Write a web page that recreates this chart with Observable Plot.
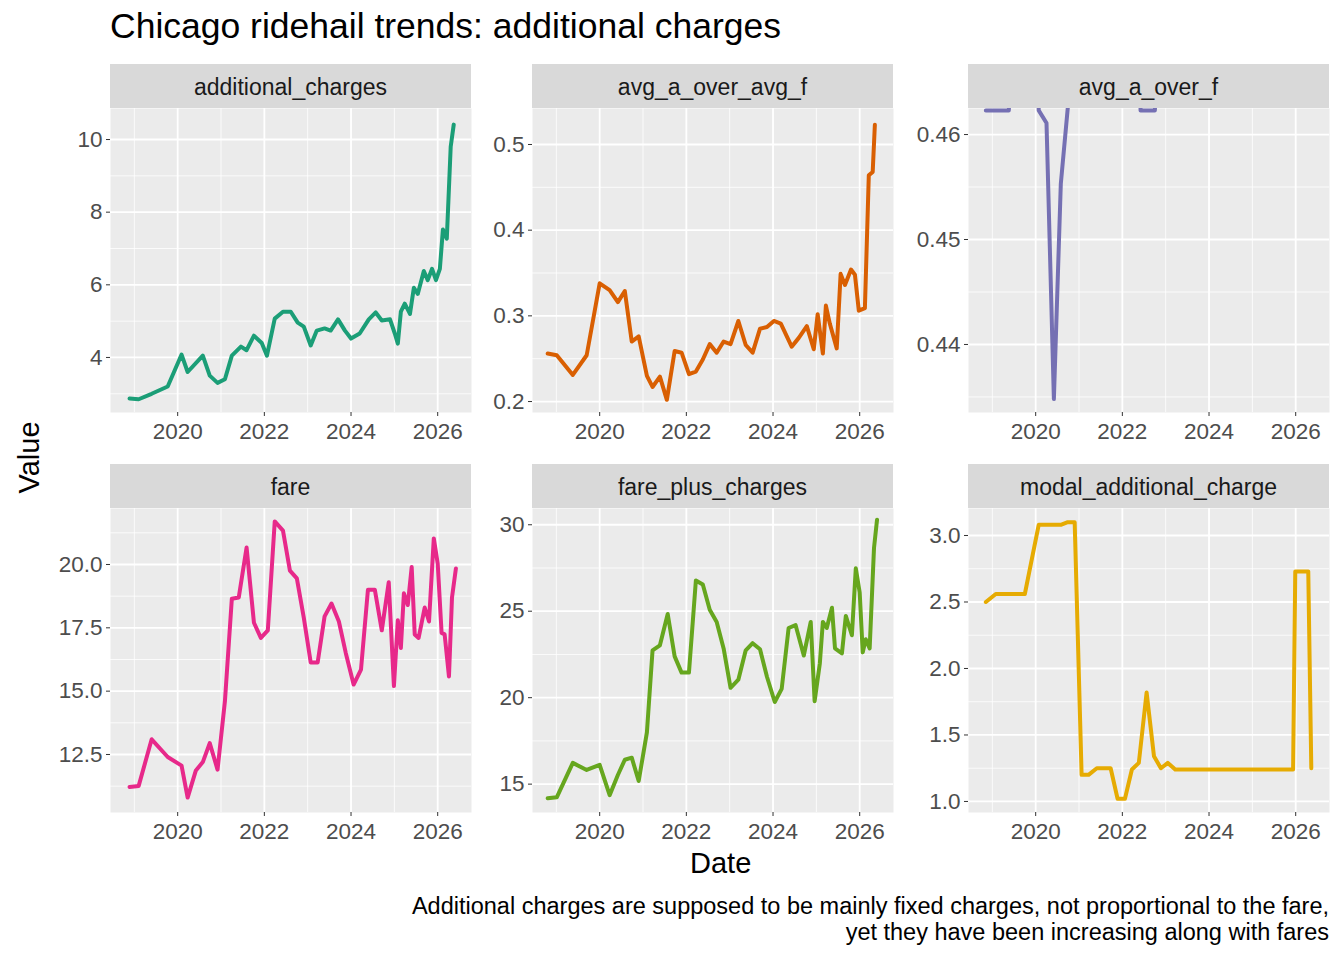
<!DOCTYPE html>
<html><head><meta charset="utf-8">
<script src="https://cdn.jsdelivr.net/npm/d3@7"></script>
<script src="https://cdn.jsdelivr.net/npm/@observablehq/plot@0.6"></script>
<style>
body{margin:0;background:#fff;font-family:"Liberation Sans",Arial,sans-serif;}
#c{position:relative;width:1344px;height:960px;}
.strip{position:absolute;background:#d9d9d9;height:44px;width:361px;text-align:center;line-height:46px;font-size:23px;color:#1a1a1a;}
.abs{position:absolute;white-space:nowrap;}
</style></head><body><div id="c"></div>
<script>
const addYears=[2018.89,2019.1,2019.4,2019.77,2020.09,2020.23,2020.58,2020.74,2020.92,2021.09,2021.25,2021.46,2021.59,2021.76,2021.94,2022.06,2022.24,2022.43,2022.61,2022.77,2022.91,2023.07,2023.21,2023.39,2023.53,2023.7,2023.86,2024.0,2024.2,2024.41,2024.57,2024.71,2024.9,2025.01,2025.08,2025.15,2025.24,2025.36,2025.45,2025.54,2025.68,2025.77,2025.87,2025.96,2026.05,2026.12,2026.21,2026.3,2026.37];
const addVals=[2.87,2.85,3.0,3.2,4.08,3.6,4.05,3.5,3.3,3.4,4.05,4.3,4.2,4.6,4.4,4.05,5.07,5.26,5.26,4.96,4.85,4.33,4.74,4.8,4.74,5.05,4.74,4.52,4.66,5.05,5.24,5.02,5.05,4.66,4.38,5.26,5.48,5.2,5.92,5.75,6.38,6.13,6.44,6.13,6.44,7.52,7.27,9.8,10.41];
const ratioYears=[2018.8,2019.01,2019.38,2019.7,2020.0,2020.23,2020.42,2020.58,2020.74,2020.9,2021.09,2021.22,2021.39,2021.55,2021.73,2021.89,2022.06,2022.22,2022.38,2022.54,2022.7,2022.86,2023.02,2023.2,2023.37,2023.53,2023.7,2023.86,2024.02,2024.18,2024.43,2024.59,2024.78,2024.94,2025.03,2025.15,2025.22,2025.31,2025.47,2025.56,2025.66,2025.8,2025.89,2025.98,2026.12,2026.21,2026.3,2026.35];
const ratioVals=[0.256,0.254,0.231,0.254,0.338,0.330,0.316,0.329,0.270,0.276,0.230,0.217,0.229,0.202,0.259,0.257,0.232,0.235,0.249,0.267,0.257,0.270,0.267,0.294,0.266,0.257,0.285,0.287,0.294,0.291,0.264,0.274,0.288,0.261,0.302,0.256,0.312,0.291,0.262,0.349,0.336,0.354,0.348,0.306,0.309,0.464,0.468,0.523];
const meanRatioYears=[2018.85,2019.38,2019.65,2020.0,2020.07,2020.25,2020.42,2020.58,2020.74,2021.04,2022.38,2022.42,2022.75,2023.0,2026.4];
const meanRatioVals=[0.4623,0.4623,0.48,0.48,0.4623,0.4611,0.4348,0.4553,0.4625,0.48,0.48,0.4623,0.4623,0.48,0.48];
const fareYears=[2018.89,2019.1,2019.4,2019.77,2020.09,2020.23,2020.42,2020.58,2020.74,2020.92,2021.09,2021.25,2021.41,2021.59,2021.76,2021.92,2022.08,2022.24,2022.43,2022.59,2022.75,2022.91,2023.07,2023.23,2023.39,2023.55,2023.72,2023.88,2024.06,2024.23,2024.39,2024.55,2024.71,2024.87,2024.99,2025.08,2025.15,2025.22,2025.31,2025.4,2025.47,2025.56,2025.7,2025.8,2025.91,2026.0,2026.09,2026.16,2026.26,2026.33,2026.42];
const fareVals=[11.22,11.26,13.1,12.4,12.06,10.8,11.87,12.2,12.95,11.9,14.6,18.65,18.7,20.67,17.7,17.1,17.4,21.7,21.34,19.76,19.45,17.9,16.13,16.13,17.95,18.46,17.75,16.5,15.26,15.85,19.0,19.0,17.4,19.3,15.2,17.8,16.7,18.86,18.4,19.9,17.24,17.1,18.3,17.75,21.03,20.04,17.3,17.24,15.58,18.7,19.84];
const fpcYears=[2018.8,2019.01,2019.38,2019.7,2020.0,2020.23,2020.42,2020.58,2020.74,2020.9,2021.09,2021.22,2021.39,2021.57,2021.73,2021.89,2022.06,2022.22,2022.38,2022.54,2022.7,2022.86,2023.02,2023.2,2023.37,2023.53,2023.7,2023.86,2024.04,2024.2,2024.36,2024.52,2024.71,2024.87,2024.96,2025.08,2025.15,2025.24,2025.36,2025.43,2025.59,2025.68,2025.82,2025.91,2026.0,2026.07,2026.14,2026.23,2026.33,2026.4];
const fpcVals=[14.18,14.24,16.23,15.82,16.12,14.36,15.53,16.41,16.53,15.18,17.99,22.74,23.03,24.84,22.39,21.45,21.45,26.78,26.54,25.08,24.38,22.85,20.57,21.04,22.74,23.15,22.8,21.21,19.75,20.51,24.03,24.2,22.44,24.38,19.8,21.98,24.38,24.03,25.2,22.85,22.56,24.73,23.61,27.48,26.08,22.62,23.38,22.85,28.65,30.29];
const modalYears=[2018.85,2019.08,2019.38,2019.75,2020.07,2020.25,2020.42,2020.58,2020.74,2020.9,2021.06,2021.22,2021.41,2021.57,2021.73,2021.89,2022.06,2022.22,2022.38,2022.56,2022.73,2022.89,2023.05,2023.22,2024.0,2025.0,2025.94,2025.99,2026.29,2026.36];
const modalVals=[2.50,2.56,2.56,2.56,3.08,3.08,3.08,3.08,3.1,3.1,1.2,1.2,1.25,1.25,1.25,1.02,1.02,1.24,1.29,1.82,1.34,1.25,1.29,1.24,1.24,1.24,1.24,2.73,2.73,1.25];

const xTicks=[2020,2022,2024,2026], xMinor=[2019,2021,2023,2025];
const panels=[
 {name:"additional_charges",x:addYears,y:addVals,color:"#1b9e77",col:0,row:0,dom:[2.485,10.854],ticks:[4,6,8,10],fmt:d=>String(d)},
 {name:"avg_a_over_avg_f",x:ratioYears,y:ratioVals,color:"#d95f02",col:1,row:0,dom:[0.1872,0.542],ticks:[0.2,0.3,0.4,0.5],fmt:d3.format(".1f")},
 {name:"avg_a_over_f",x:meanRatioYears,y:meanRatioVals,color:"#7570b3",col:2,row:0,dom:[0.43352,0.46248],ticks:[0.44,0.45,0.46],fmt:d3.format(".2f")},
 {name:"fare",x:fareYears,y:fareVals,color:"#e7298a",col:0,row:1,dom:[10.21,22.21],ticks:[12.5,15,17.5,20],fmt:d3.format(".1f")},
 {name:"fare_plus_charges",x:fpcYears,y:fpcVals,color:"#66a61e",col:1,row:1,dom:[13.36,30.94],ticks:[15,20,25,30],fmt:d=>String(d)},
 {name:"modal_additional_charge",x:modalYears,y:modalVals,color:"#e6ab02",col:2,row:1,dom:[0.917,3.203],ticks:[1,1.5,2,2.5,3],fmt:d3.format(".1f")}
];
const colLeft=[110,532,968], rowTop=[108,508];
const c=document.getElementById("c");
function add(html,style){const d=document.createElement("div");d.className="abs";d.innerHTML=html;Object.assign(d.style,style);c.appendChild(d);return d;}
for(const p of panels){
  const L=colLeft[p.col], T=rowTop[p.row];
  const s=document.createElement("div");s.className="strip";s.textContent=p.name;s.style.left=L+"px";s.style.top=(T-44)+"px";c.appendChild(s);
  const data=p.x.map((x,i)=>({x,y:p.y[i]}));
  const yMinor=p.ticks.slice(0,-1).map((t,i)=>(t+p.ticks[i+1])/2);
  yMinor.unshift(p.ticks[0]-(p.ticks[1]-p.ticks[0])/2);yMinor.push(p.ticks[p.ticks.length-1]+(p.ticks[1]-p.ticks[0])/2);
  const chart=Plot.plot({
    width:425,height:334,marginLeft:60,marginRight:4,marginTop:0,marginBottom:30,
    style:{fontFamily:"Liberation Sans, Arial, sans-serif",fontSize:"22.5px",color:"#4d4d4d",background:"transparent",overflow:"visible"},
    x:{domain:[2018.45,2026.78]},
    y:{domain:p.dom},
    marks:[
      Plot.frame({fill:"#ebebeb",stroke:null}),
      Plot.ruleX(xMinor,{stroke:"#fff",strokeWidth:0.8}),
      Plot.ruleY(yMinor.filter(v=>v>p.dom[0]&&v<p.dom[1]),{stroke:"#fff",strokeWidth:0.8}),
      Plot.ruleX(xTicks,{stroke:"#fff",strokeWidth:1.8}),
      Plot.ruleY(p.ticks,{stroke:"#fff",strokeWidth:1.8}),
      Plot.line(data,{x:"x",y:"y",stroke:p.color,strokeWidth:4,clip:true}),
      Plot.axisX(xTicks,{tickSize:4,tickPadding:7,tickFormat:d=>String(d),stroke:"#333",fill:"#4d4d4d",label:null}),
      Plot.axisY(p.ticks,{tickSize:4,tickPadding:4,tickFormat:p.fmt,stroke:"#333",fill:"#4d4d4d",label:null})
    ]
  });
  chart.style.position="absolute";chart.style.left=(L-60)+"px";chart.style.top=T+"px";
  c.appendChild(chart);
}
add("Chicago ridehail trends: additional charges",{left:"110px",top:"6px",fontSize:"35.5px",color:"#000"});
add("Value",{left:"-6px",top:"442px",fontSize:"29px",color:"#000",transform:"rotate(-90deg)",transformOrigin:"center",width:"70px",textAlign:"center"});
add("Date",{left:"690px",top:"847px",fontSize:"29px",color:"#000"});
add("Additional charges are supposed to be mainly fixed charges, not proportional to the fare,<br>yet they have been increasing along with fares",{right:"15px",top:"893px",fontSize:"23.5px",color:"#000",textAlign:"right",lineHeight:"26px"});
</script></body></html>
